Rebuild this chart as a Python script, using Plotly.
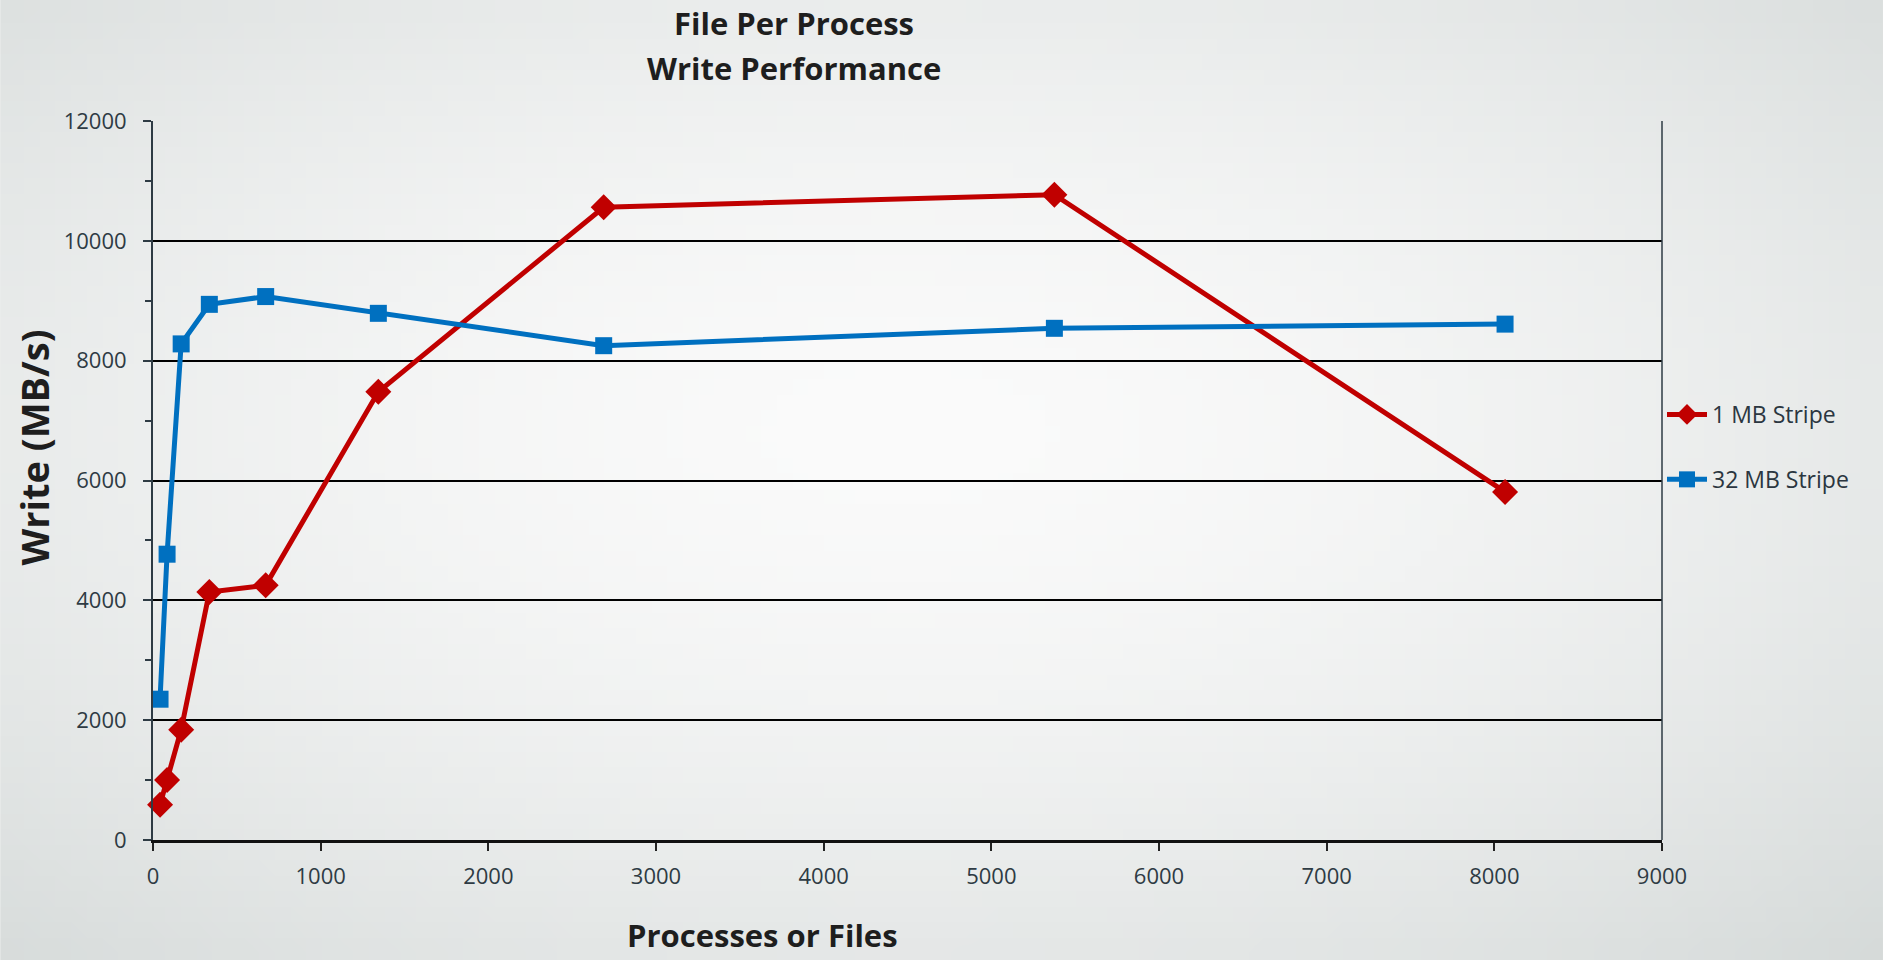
import base64
import struct
import zlib

import numpy as np
import plotly.graph_objects as go

# Processes / files per run
processes = [42, 84, 168, 336, 672, 1344, 2688, 5376, 8064]

# Aggregate write bandwidth, MB/s
write_1mb = [590, 1000, 1840, 4140, 4250, 7480, 10560, 10770, 5810]
write_32mb = [2350, 4770, 8280, 8940, 9070, 8790, 8250, 8540, 8610]

series_names = ["1 MB Stripe", "32 MB Stripe"]
series_colors = ["#c00000", "#0070c0"]
series_symbols = ["diamond", "square"]

x_ticks = list(range(0, 9001, 1000))
y_ticks = list(range(0, 12001, 2000))

title_lines = ["File Per Process", "Write Performance"]
y_title = "Write (MB/s)"
x_title = "Processes or Files"

W, H = 1883, 960
L, R, T, B = 152.5, 1662, 121, 840


def gradient_png(w=120, h=62):
    """Soft radial backdrop: near-white centre fading to grey corners."""
    yy, xx = np.mgrid[0:h, 0:w]
    cx, cy = 0.48 * (w - 1), 0.45 * (h - 1)
    d = np.sqrt(((xx - cx) / (0.62 * w)) ** 2 + ((yy - cy) / (0.62 * h)) ** 2)
    d = np.clip(d, 0, 1.25) / 1.25
    centre = np.array([251, 251, 251], float)
    edge = np.array([212, 217, 216], float)
    t = d ** 1.6
    img = centre[None, None, :] * (1 - t[..., None]) + edge[None, None, :] * t[..., None]
    img = img.astype(np.uint8)
    raw = b"".join(b"\x00" + img[r].tobytes() for r in range(h))

    def chunk(tag, data):
        c = struct.pack(">I", len(data)) + tag + data
        return c + struct.pack(">I", zlib.crc32(tag + data) & 0xFFFFFFFF)

    png = b"\x89PNG\r\n\x1a\n"
    png += chunk(b"IHDR", struct.pack(">IIBBBBB", w, h, 8, 2, 0, 0, 0))
    png += chunk(b"IDAT", zlib.compress(raw, 9))
    png += chunk(b"IEND", b"")
    return "data:image/png;base64," + base64.b64encode(png).decode()


fig = go.Figure()

marker_sizes = [20, 17]
for name, ys, color, sym, ms in zip(series_names, [write_1mb, write_32mb],
                                    series_colors, series_symbols, marker_sizes):
    fig.add_trace(go.Scatter(
        x=processes, y=ys, name=name, mode="lines+markers",
        line=dict(color=color, width=5),
        marker=dict(symbol=sym, size=ms, color=color),
        legendgroup=name,
        cliponaxis=False,
    ))

font_family = "Open Sans, Lato, sans-serif"
tick_color = "#2e3b44"

fig.update_layout(
    width=W, height=H,
    margin=dict(l=L, r=W - R, t=T, b=H - B, autoexpand=False),
    paper_bgcolor="#eceeed",
    plot_bgcolor="rgba(0,0,0,0)",
    font=dict(family=font_family, color=tick_color),
    showlegend=True,
    legend=dict(
        x=1.0, xanchor="left", y=(H - 393) / H, yref="container", yanchor="top",
        bgcolor="rgba(0,0,0,0)", font=dict(size=23, color="#2b3640"),
        tracegroupgap=32, itemwidth=40, traceorder="grouped",
    ),
    images=[dict(
        source=gradient_png(), xref="paper", yref="paper",
        x=-L / (R - L), y=1 + T / (B - T),
        sizex=W / (R - L), sizey=H / (B - T),
        sizing="stretch", layer="below", xanchor="left", yanchor="top",
    )],
)

fig.update_xaxes(
    range=[0, 9000], tickvals=x_ticks, ticktext=[str(v) for v in x_ticks],
    showgrid=False, zeroline=False,
    showline=True, linecolor="#111111", linewidth=3,
    ticks="outside", ticklen=8, tickwidth=1.5, tickcolor="#222222",
    tickfont=dict(size=22, color=tick_color), ticklabelstandoff=7,
)
fig.update_yaxes(
    range=[0, 12000], tickvals=y_ticks, ticktext=[str(v) for v in y_ticks],
    showgrid=True, gridcolor="#000000", gridwidth=1.5,
    zeroline=False,
    showline=True, linecolor="#2e3b44", linewidth=2,
    ticks="outside", ticklen=8, tickwidth=1.5, tickcolor="#2e3b44",
    minor=dict(dtick=1000, ticks="outside", ticklen=6, tickwidth=1.5,
               tickcolor="#2e3b44", showgrid=False),
    tickfont=dict(size=22, color=tick_color), ticklabelstandoff=12,
)

# right-hand frame edge of the plotting area
fig.add_shape(type="line", xref="paper", yref="paper", x0=1, x1=1, y0=0, y1=1,
              line=dict(color="#2e3b44", width=1.5))

title_font = dict(family=font_family, size=31, color="#1e1e1e")
for i, line in enumerate(title_lines):
    fig.add_annotation(text=f"<b>{line}</b>", xref="paper", yref="paper",
                       x=(794 - L) / (R - L), y=1 + (T - (23 + 45 * i)) / (B - T),
                       showarrow=False, font=title_font,
                       xanchor="center", yanchor="middle")

fig.add_annotation(text=f"<b>{y_title}</b>", xref="paper", yref="paper",
                   x=(33 - L) / (R - L), y=(B - 448) / (B - T), textangle=-90,
                   showarrow=False, font=dict(family=font_family, size=38, color="#1e1e1e"),
                   xanchor="center", yanchor="middle")
fig.add_annotation(text=f"<b>{x_title}</b>", xref="paper", yref="paper",
                   x=(762 - L) / (R - L), y=-(935 - B) / (B - T),
                   showarrow=False, font=title_font,
                   xanchor="center", yanchor="middle")

fig.write_html("out.html")
